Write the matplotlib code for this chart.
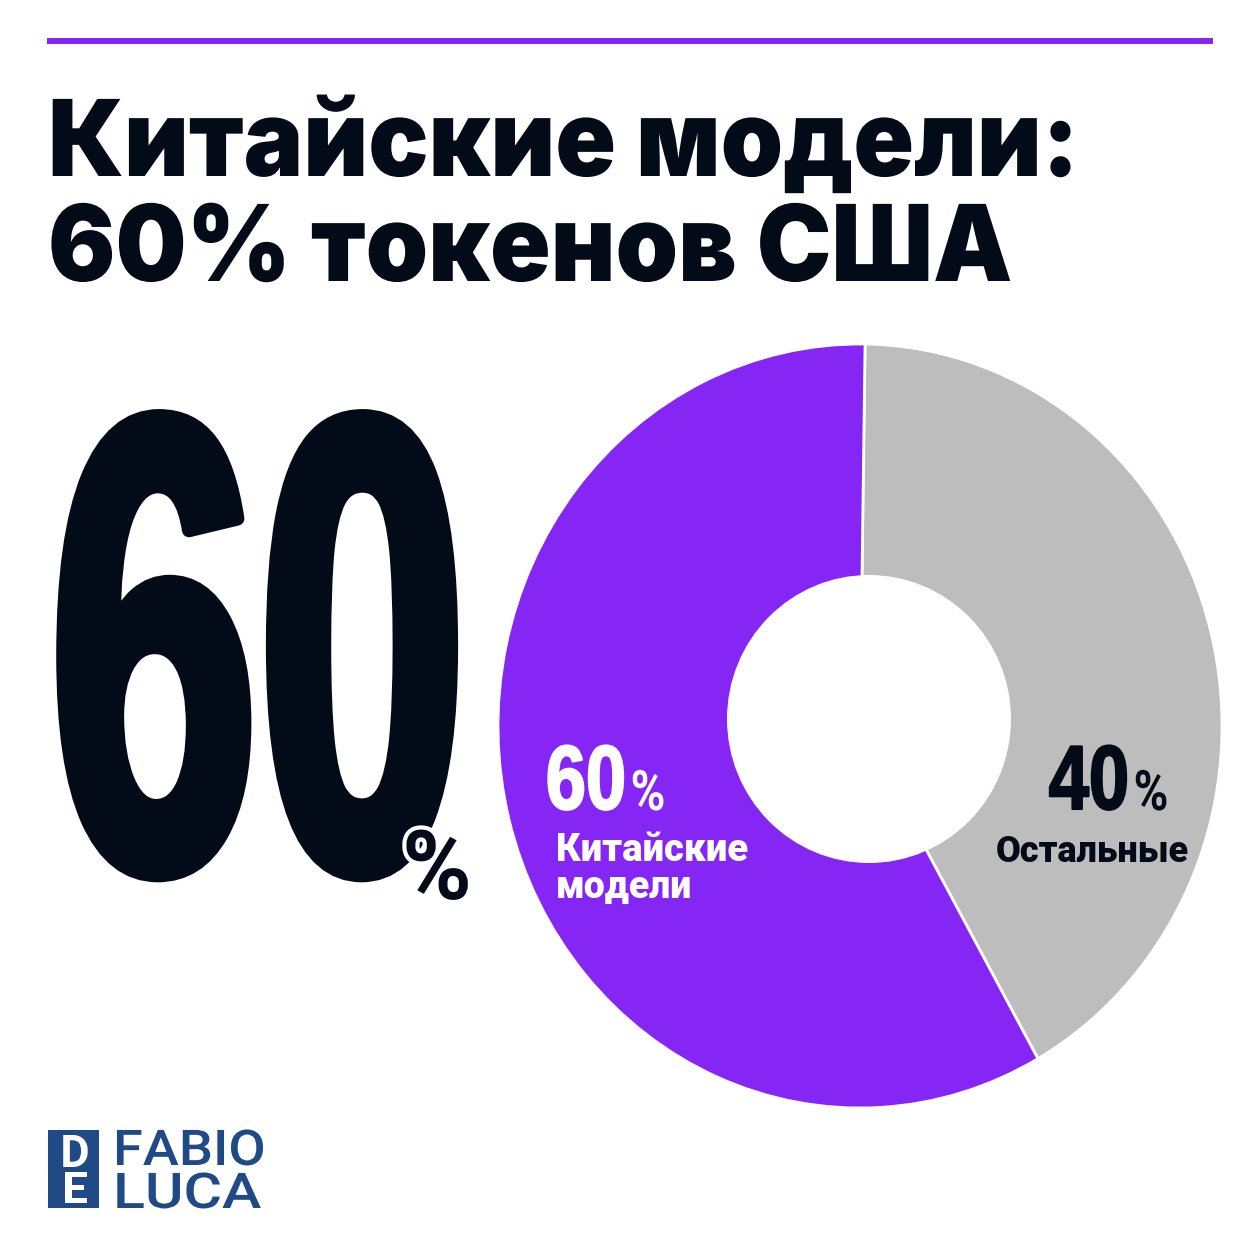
import matplotlib
matplotlib.use("Agg")
import matplotlib.pyplot as plt
from matplotlib.patches import Rectangle, Ellipse
from matplotlib import patheffects as pe
from matplotlib.transforms import Affine2D

TITLE_LINES = ["Китайские модели:", "60% токенов США"]
# wedge sizes as drawn in the picture, the printed labels say 40 / 60
SHARES = [41.6, 58.4]
SHARE_COLORS = ["#bdbdbd", "#8526f5"]
SHARE_LABELS = ["40", "60"]
SHARE_NAMES = ["Остальные", "Китайские\nмодели"]
BIG_NUMBER = "60"

DARK = "#040b18"
PURPLE = "#8526f5"
LOGO = "#1f4a85"
W = 1254

plt.rcParams["font.family"] = ["Roboto", "DejaVu Sans"]


class Squeeze(pe.AbstractPathEffect):
    # scales the glyphs around an anchor, matplotlib has no condensed text option
    def __init__(self, sx, sy, anchor, stroke=0, color=None):
        super().__init__()
        self.sx, self.sy, self.anchor = sx, sy, anchor
        self.stroke, self.color = stroke, color

    def draw_path(self, renderer, gc, tpath, affine, rgbFace=None):
        cx, cy = self.anchor
        extra = Affine2D().translate(-cx, -cy).scale(self.sx, self.sy).translate(cx, cy)
        gc0 = renderer.new_gc()
        gc0.copy_properties(gc)
        if self.stroke:
            gc0.set_linewidth(self.stroke)
            gc0.set_foreground(self.color)
        renderer.draw_path(gc0, tpath, affine + extra, rgbFace)
        gc0.restore()


fig = plt.figure(figsize=(W / 100, W / 100), dpi=100, facecolor="white")

# donut is slightly oval in the reference: centre (860, 726), radii 362 x 382
ax = fig.add_axes([(860 - 362) / W, 1 - (726 + 382) / W, 2 * 362 / W, 2 * 382 / W], zorder=1)
ax.pie(SHARES, colors=SHARE_COLORS, startangle=89.2, counterclock=False, radius=1,
       wedgeprops=dict(edgecolor="white", linewidth=2))
ax.set_aspect("auto")
ax.set_xlim(-1, 1)
ax.set_ylim(-1, 1)

bg = fig.add_axes([0, 0, 1, 1], zorder=2)
bg.set_xlim(0, W)
bg.set_ylim(W, 0)
bg.axis("off")
bg.patch.set_alpha(0)


def stretched(x, y, s, size, sx=1.0, sy=1.0, color=DARK, weight="bold", ha="center", family=None, stroke=0,
              halo=0):
    anchor = bg.transData.transform((x, y))
    t = bg.text(x, y, s, fontsize=size, fontweight=weight, color=color, va="baseline", ha=ha)
    if family:
        t.set_family(family)
    effects = [Squeeze(sx, sy, anchor, stroke, color)]
    if halo:
        effects.insert(0, Squeeze(sx, sy, anchor, halo, "white"))
    t.set_path_effects(effects)
    return t


# hole, not quite concentric with the ring
bg.add_patch(Ellipse((869, 719), 284, 288, color="white", lw=0))

bg.add_patch(Rectangle((47, 38), 1166, 6, color=PURPLE, lw=0))

stretched(48, 176, TITLE_LINES[0], 72, sy=1.06, weight="black", ha="left", family=["Inter", "Roboto"])
stretched(48, 281, TITLE_LINES[1], 72, sy=1.06, weight="black", ha="left", family=["Inter", "Roboto"])

stretched(258, 869, BIG_NUMBER, 270, sy=1.73, family=["Liberation Sans"], stroke=10)
stretched(437, 899, "%", 68, sy=1.02, weight="bold", halo=6)

stretched(1089, 809, SHARE_LABELS[0], 52, sy=1.26, family=["Liberation Sans"], stroke=1.5)
stretched(1151, 810, "%", 34, sy=1.18)
bg.text(1092, 862, SHARE_NAMES[0], fontsize=26, fontweight="black", color=DARK, va="baseline", ha="center")

stretched(586, 809, SHARE_LABELS[1], 52, sy=1.26, color="white", family=["Liberation Sans"], stroke=1.5)
stretched(648, 810, "%", 34, sy=1.18, color="white")
name_lines = SHARE_NAMES[1].split("\n")
bg.text(556, 861, name_lines[0], fontsize=27.5, fontweight="black", color="white", va="baseline", ha="left")
bg.text(556, 898, name_lines[1], fontsize=27, fontweight="black", color="white", va="baseline", ha="left")

# logo
bg.add_patch(Rectangle((48, 1130), 51, 78, color=LOGO, lw=0))
stretched(75, 1167, "D", 27, sx=1.2, sy=1.2, color="white")
stretched(75, 1203, "E", 27, sx=1.2, sy=1.15, color="white")
stretched(113, 1165, "FABIO", 25, sx=1.56, sy=1.42, color=LOGO, ha="left", weight="medium")
stretched(113, 1208, "LUCA", 25, sx=1.7, sy=1.42, color=LOGO, ha="left", weight="medium")

fig.savefig("out.png", dpi=100, facecolor="white")
